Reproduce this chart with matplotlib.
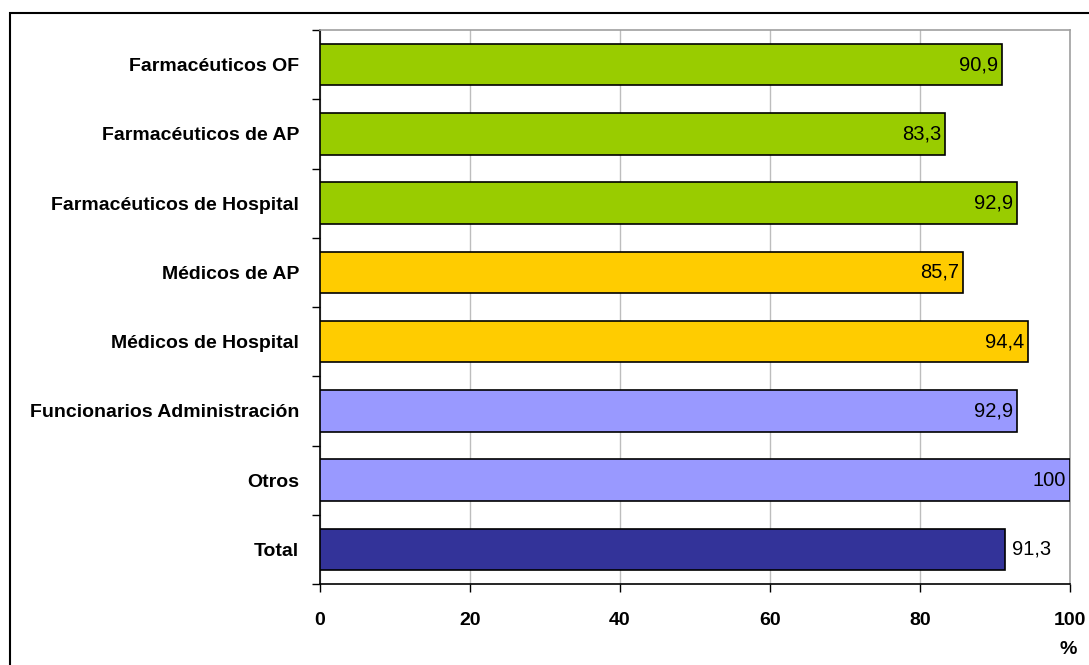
import matplotlib
matplotlib.use("Agg")
import matplotlib.pyplot as plt
from matplotlib.patches import Rectangle
import numpy as np

categories = ["Farmacéuticos OF", "Farmacéuticos de AP", "Farmacéuticos de Hospital",
              "Médicos de AP", "Médicos de Hospital", "Funcionarios Administración",
              "Otros", "Total"]
values = [90.9, 83.3, 92.9, 85.7, 94.4, 92.9, 100, 91.3]
value_labels = ["90,9", "83,3", "92,9", "85,7", "94,4", "92,9", "100", "91,3"]
colors = ["#99CC00", "#99CC00", "#99CC00", "#FFCC00", "#FFCC00",
          "#9999FF", "#9999FF", "#333399"]
xticks = [0, 20, 40, 60, 80, 100]

plt.rcParams['font.family'] = ['Liberation Sans', 'DejaVu Sans']

fig = plt.figure(figsize=(10.89, 6.65), dpi=100)
W, H = 1089, 665
ax = fig.add_axes([320 / W, 1 - 584 / H, 750 / W, 554 / H])

n = len(categories)
y = np.arange(n)
ax.barh(y, values, height=0.6, color=colors, edgecolor="black", linewidth=1.2, zorder=3)
ax.set_ylim(n - 0.5, -0.5)
ax.set_xlim(0, 100)

for i, (v, lab) in enumerate(zip(values, value_labels)):
    if i == n - 1:
        ax.text(v + 1.0, i, lab, ha="left", va="center", fontsize=14.5, zorder=4)
    else:
        ax.text(v - 0.5, i, lab, ha="right", va="center", fontsize=14.5, zorder=4)

ax.set_yticks(y)
ax.set_yticklabels(categories, fontsize=14, fontweight="bold")
ax.tick_params(axis="y", which="major", length=0, pad=15)
ax.set_yticks(np.arange(n + 1) - 0.5, minor=True)
ax.tick_params(axis="y", which="minor", length=6, width=1, direction="out")

ax.set_xticks(xticks)
ax.set_xticklabels([str(t) for t in xticks], fontsize=14, fontweight="bold")
ax.tick_params(axis="x", length=6, width=1, direction="out", pad=14)

ax.grid(axis="x", color="#BDBDBD", linewidth=1, zorder=0)
for s in ["left", "bottom"]:
    ax.spines[s].set_color("black")
    ax.spines[s].set_linewidth(1.2)
for s in ["top", "right"]:
    ax.spines[s].set_color("#A0A0A0")
    ax.spines[s].set_linewidth(1.2)

fig.text(1068 / W, 1 - 649 / H, "%", ha="center", va="center", fontsize=14, fontweight="bold")

fig.patches.append(Rectangle((10 / W, -0.05), 1.05, (H - 13) / H + 0.05,
                             transform=fig.transFigure, fill=False,
                             edgecolor="black", linewidth=1.5, clip_on=False))

fig.savefig("out.png", dpi=100)
